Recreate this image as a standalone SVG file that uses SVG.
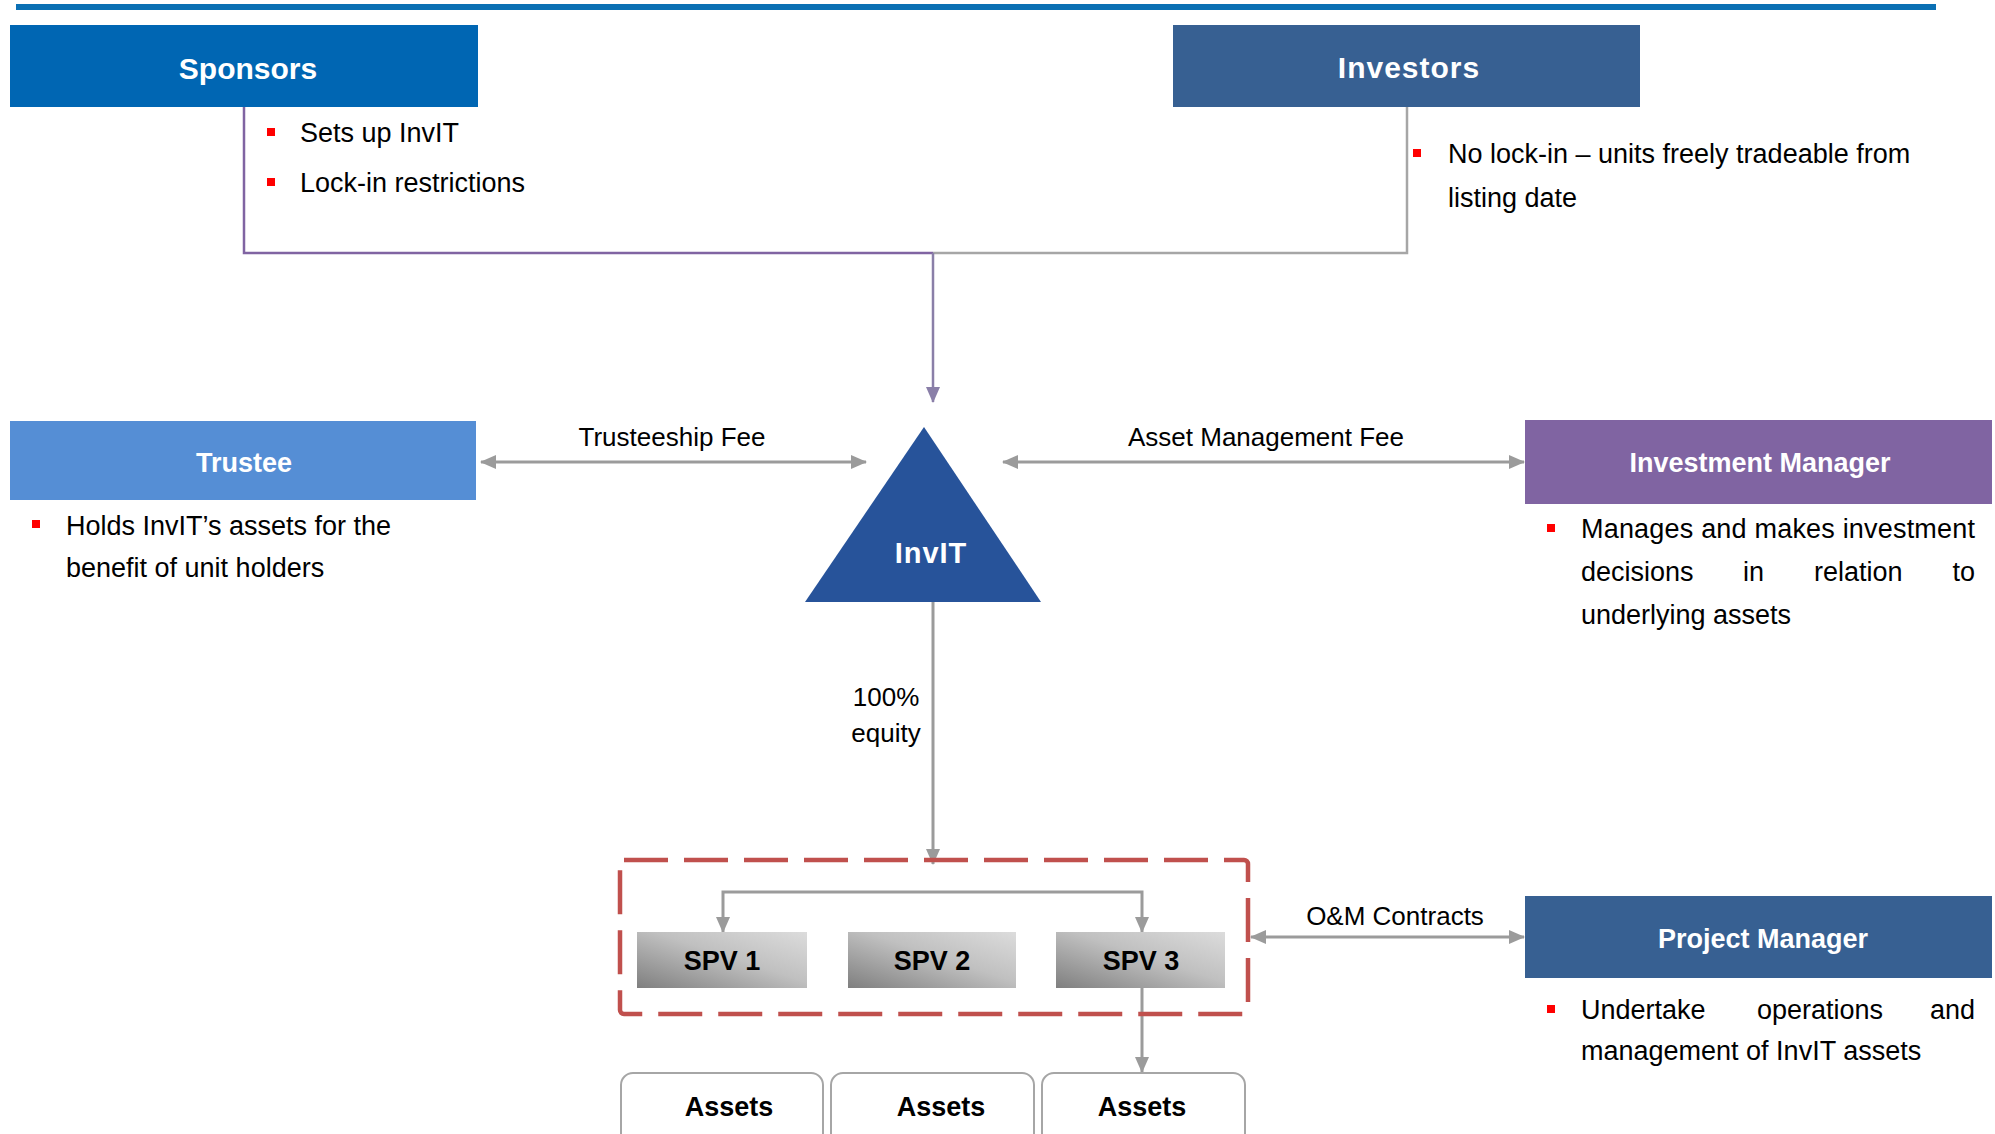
<svg xmlns="http://www.w3.org/2000/svg" width="1995" height="1134" viewBox="0 0 1995 1134">
<defs>
<style>
.hdr{font-family:"Liberation Sans",Arial,sans-serif;font-weight:bold;fill:#fff;text-anchor:middle}
.body{font-family:"Liberation Sans",Arial,sans-serif;font-size:27px;fill:#000}
.lbl{font-family:"Liberation Sans",Arial,sans-serif;font-size:26px;fill:#000;text-anchor:middle}
.bul{fill:#ff0000}
.spvt{font-family:"Liberation Sans",Arial,sans-serif;font-weight:bold;font-size:27px;fill:#000;text-anchor:middle}
.conn{fill:none;stroke:#9b9b9b;stroke-width:3}
.asset{fill:#fff;stroke:#a6a6a6;stroke-width:2}
</style>
<marker id="arr" markerUnits="userSpaceOnUse" markerWidth="16" markerHeight="14" refX="15" refY="7" orient="auto-start-reverse" viewBox="0 0 16 14">
<path d="M0,0 L16,7 L0,14 z" fill="#9b9b9b"/>
</marker>
<marker id="arrp" markerUnits="userSpaceOnUse" markerWidth="16" markerHeight="14" refX="15" refY="7" orient="auto-start-reverse" viewBox="0 0 16 14">
<path d="M0,0 L16,7 L0,14 z" fill="#8a7fa8"/>
</marker>
<linearGradient id="spvg" x1="0" y1="1" x2="1" y2="0">
<stop offset="0" stop-color="#7f7f7f"/>
<stop offset="0.55" stop-color="#c0c0c0"/>
<stop offset="1" stop-color="#dcdcdc"/>
</linearGradient>
</defs>
<rect width="1995" height="1134" fill="#fff"/>
<rect x="16" y="4" width="1920" height="6" fill="#0B70B4"/>

<g id="connectors">
<polyline points="244,107 244,253 933,253" fill="none" stroke="#8064A2" stroke-width="2.5"/>
<polyline points="1407,107 1407,253 933,253" fill="none" stroke="#a6a6a6" stroke-width="2.5"/>
<line x1="933" y1="253" x2="933" y2="402" stroke="#8a7fa8" stroke-width="2.5" marker-end="url(#arrp)"/>
<line x1="481" y1="462" x2="866" y2="462" class="conn" marker-start="url(#arr)" marker-end="url(#arr)"/>
<line x1="1003" y1="462" x2="1524" y2="462" class="conn" marker-start="url(#arr)" marker-end="url(#arr)"/>
<line x1="933" y1="602" x2="933" y2="864" class="conn" marker-end="url(#arr)"/>
<path d="M723,932 V892 H1142 V932" class="conn" marker-start="url(#arr)" marker-end="url(#arr)"/>
<line x1="1142" y1="988" x2="1142" y2="1072" class="conn" marker-end="url(#arr)"/>
<line x1="1251" y1="937" x2="1524" y2="937" class="conn" marker-start="url(#arr)" marker-end="url(#arr)"/>
<text class="lbl" x="672" y="446">Trusteeship Fee</text>
<text class="lbl" x="1266" y="446">Asset Management Fee</text>
<text class="lbl" x="886" y="706">100%</text>
<text class="lbl" x="886" y="742">equity</text>
<text class="lbl" x="1395" y="925">O&amp;M Contracts</text>
</g>

<g id="sponsors">
<rect x="10" y="25" width="468" height="82" fill="#0066B3"/>
<text class="hdr" x="248" y="79" font-size="30">Sponsors</text>
<rect class="bul" x="267" y="128" width="8" height="8"/>
<text class="body" x="300" y="142">Sets up InvIT</text>
<rect class="bul" x="267" y="178" width="8" height="8"/>
<text class="body" x="300" y="192">Lock-in restrictions</text>
</g>

<g id="investors">
<rect x="1173" y="25" width="467" height="82" fill="#376092"/>
<text class="hdr" x="1409" y="78" font-size="30" letter-spacing="1">Investors</text>
<rect class="bul" x="1413" y="149" width="8" height="8"/>
<text class="body" x="1448" y="163">No lock-in – units freely tradeable from</text>
<text class="body" x="1448" y="207">listing date</text>
</g>

<g id="trustee">
<rect x="10" y="421" width="466" height="79" fill="#558ED5"/>
<text class="hdr" x="244" y="472" font-size="27">Trustee</text>
<rect class="bul" x="32" y="520" width="8" height="8"/>
<text class="body" x="66" y="535">Holds InvIT’s  assets for the</text>
<text class="body" x="66" y="577">benefit of unit holders</text>
</g>

<g id="invit">
<polygon points="924,427 805,602 1041,602" fill="#27539A"/>
<text class="hdr" x="931" y="563" font-size="29" letter-spacing="1">InvIT</text>
</g>

<g id="investment-manager">
<rect x="1525" y="420" width="467" height="84" fill="#8064A2"/>
<text class="hdr" x="1760" y="472" font-size="27">Investment Manager</text>
<rect class="bul" x="1547" y="524" width="8" height="8"/>
<text class="body" x="1581" y="538" textLength="394" lengthAdjust="spacing">Manages and makes investment</text>
<text class="body" x="1581" y="581">decisions</text>
<text class="body" x="1743" y="581">in</text>
<text class="body" x="1814" y="581">relation</text>
<text class="body" x="1975" y="581" text-anchor="end">to</text>
<text class="body" x="1581" y="624">underlying assets</text>
</g>

<g id="spv-group">
<rect x="620" y="860" width="628" height="154" rx="4" fill="none" stroke="#C0504D" stroke-width="4.5" stroke-dasharray="44 16"/>
</g>
<g id="spv1">
<rect x="637" y="932" width="170" height="56" fill="url(#spvg)"/>
<text class="spvt" x="722" y="970">SPV 1</text>
</g>
<g id="spv2">
<rect x="848" y="932" width="168" height="56" fill="url(#spvg)"/>
<text class="spvt" x="932" y="970">SPV 2</text>
</g>
<g id="spv3">
<rect x="1056" y="932" width="169" height="56" fill="url(#spvg)"/>
<text class="spvt" x="1141" y="970">SPV 3</text>
</g>

<g id="assets1">
<rect class="asset" x="621" y="1073" width="202" height="80" rx="12"/>
<text class="spvt" x="729" y="1116" font-size="26">Assets</text>
</g>
<g id="assets2">
<rect class="asset" x="831" y="1073" width="203" height="80" rx="12"/>
<text class="spvt" x="941" y="1116" font-size="26">Assets</text>
</g>
<g id="assets3">
<rect class="asset" x="1042" y="1073" width="203" height="80" rx="12"/>
<text class="spvt" x="1142" y="1116" font-size="26">Assets</text>
</g>

<g id="project-manager">
<rect x="1525" y="896" width="467" height="82" fill="#376092"/>
<text class="hdr" x="1763" y="948" font-size="27">Project Manager</text>
<rect class="bul" x="1547" y="1005" width="8" height="8"/>
<text class="body" x="1581" y="1019">Undertake</text>
<text class="body" x="1757" y="1019">operations</text>
<text class="body" x="1975" y="1019" text-anchor="end">and</text>
<text class="body" x="1581" y="1060">management of InvIT  assets</text>
</g>
</svg>
